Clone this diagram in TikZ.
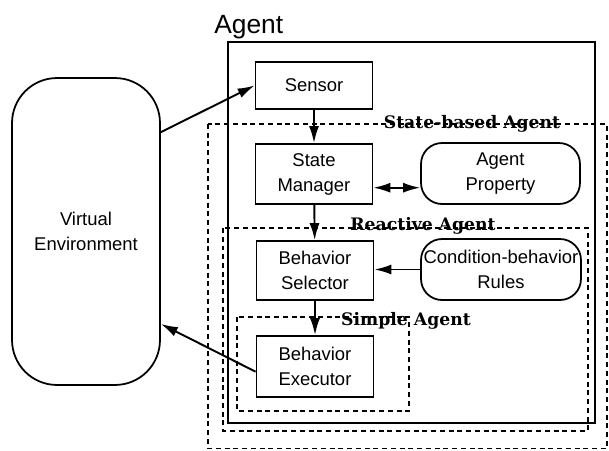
\documentclass[tikz,border=0pt]{standalone}
\usepackage{fontspec}
\setmainfont{Liberation Sans}
\newfontfamily\tagfont{DejaVu Serif}
\usetikzlibrary{arrows.meta,calc,positioning}

\begin{document}
\begin{tikzpicture}[x=0.02cm, y=-0.02cm,
  >={Latex[length=3.4mm,width=2mm]},
  module/.style={draw, line width=1pt, inner sep=0pt, align=center,
    minimum width=2.34cm, font=\fontsize{10.5}{14.2}\selectfont},
  store/.style={module, rounded corners=0.42cm},
  group/.style={draw, line width=0.7pt, dash pattern=on 0.1cm off 0.075cm},
  tag/.style={anchor=base, inner sep=0pt, font=\tagfont\bfseries\fontsize{9.8}{11}\selectfont},
  link/.style={->, line width=1.1pt}]
\useasboundingbox (0,0) rectangle (609,450);

% Agent boundary
\draw[line width=1pt] (228,42) rectangle (595,423);
\node[anchor=base west, inner sep=0pt, font=\fontsize{15}{18}\selectfont] (title) at (214,33) {Agent};

% Nested agent kinds
\draw[group] (208,124) rectangle (607,448.5);
\node[tag] (statebased) at (472,128) {State-based Agent};
\draw[group] (223,228) rectangle (588,431);
\node[tag] (reactive) at (423,230) {Reactive Agent};
\draw[group] (237,317) rectangle (409,411);
\node[tag] (simple) at (406,325) {Simple Agent};

% Environment
\node[store, minimum width=2.96cm, minimum height=6.14cm, rounded corners=0.9cm] (env) at (86,231.5) {Virtual\\Environment};

% Modules
\node[module, minimum height=0.94cm] (sensor) at (314,85.5) {Sensor};
\node[module, minimum height=1.2cm] (manager) at (314,174) {State\\Manager};
\node[module, minimum height=1.18cm] (selector) at (315,270.5) {Behavior\\Selector};
\node[module, minimum height=1.22cm] (executor) at (315,366.5) {Behavior\\Executor};

% Knowledge
\node[store, minimum width=3.18cm, minimum height=1.22cm] (property) at (500.5,173.5) {Agent\\Property};
\node[store, minimum width=3.2cm, minimum height=1.22cm] (rules) at (501,269.5) {Condition-behavior\\Rules};

% Flow
\draw[link] (env.53) -- (sensor.west);
\draw[link] (sensor) -- (manager);
\draw[link] (manager) -- (selector);
\draw[link] (selector) -- (executor);
\draw[link] (executor.185) -- (env.-51);
\draw[link, <->] (manager.-13.5) -- (manager.-13.5 -| property.west);
\draw[link] (rules.west) -- (rules.west -| selector.east);
\end{tikzpicture}
\end{document}
